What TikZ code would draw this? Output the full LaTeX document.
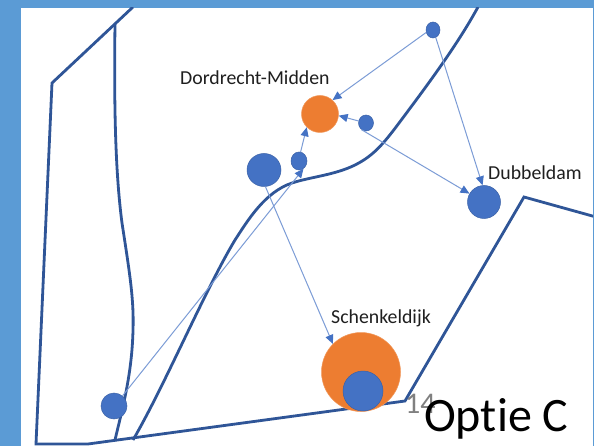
\documentclass[tikz,border=0pt]{standalone}
\usepackage{fontspec}
\setmainfont[RawFeature={-liga}]{Carlito}
\usetikzlibrary{arrows.meta,shapes.geometric}
\definecolor{frameblue}{HTML}{5B9BD5}
\definecolor{roadblue}{HTML}{2F5597}
\definecolor{dotblue}{HTML}{4472C4}
\definecolor{dotorange}{HTML}{ED7D31}
\definecolor{arrowblue}{HTML}{7C9CD6}
\tikzset{
  road/.style={draw=roadblue,line width=2.8pt,line join=miter},
  blue dot/.style={ellipse,inner sep=0pt,fill=dotblue,draw=dotblue!85!black,line width=0.5pt},
  orange dot/.style={circle,inner sep=0pt,fill=dotorange,draw=dotorange!80!white,line width=0.5pt},
  link/.style={draw=arrowblue,line width=1pt,-{Triangle[length=9pt,width=8pt,color=dotblue]}},
  label text/.style={inner sep=0pt,text=black!88,font=\fontsize{19.8}{22}\selectfont},
}
\begin{document}
\begin{tikzpicture}[x=1pt,y=-1pt]
\useasboundingbox (0,0) rectangle (594,446);
\fill[white] (0,0) rectangle (594,446);
% frame
\fill[frameblue] (0,0) rectangle (594,8);
\fill[frameblue] (0,0) rectangle (21,446);
\fill[frameblue] (593,0) rectangle (594,446);
% boundary
\begin{scope}
\clip (21,8) rectangle (593,446);
\draw[road] (133,7) -- (52,83) -- (36,444) -- (88,444) -- (405,401) -- (524,197) -- (596,217);
\draw[road] (115,24) .. controls (114,100) and (115,170) .. (122,223)
  .. controls (130,275) and (134,300) .. (133,330)
  .. controls (132,375) and (122,410) .. (115,440);
\draw[road] (478,7) .. controls (460,40) and (435,75) .. (405,115)
  .. controls (385,142) and (375,155) .. (355,165)
  .. controls (335,175) and (310,177) .. (292,183)
  .. controls (265,192) and (248,220) .. (235,240)
  .. controls (205,290) and (165,385) .. (133,440);
\end{scope}
% places
\node[orange dot,minimum width=37pt,minimum height=37pt] (midden) at (320,114) {};
\node[orange dot,minimum width=79pt,minimum height=79pt] (schenkel) at (361,372) {};
\node[blue dot,minimum width=14pt,minimum height=16pt] (top) at (433,30) {};
\node[blue dot,minimum width=15pt,minimum height=16pt] (east) at (366,123) {};
\node[blue dot,minimum width=16pt,minimum height=18pt] (small) at (299,161) {};
\node[blue dot,minimum width=34pt,minimum height=33pt] (big) at (264,170) {};
\node[blue dot,minimum width=33pt,minimum height=33pt] (dubbel) at (484,202) {};
\node[blue dot,minimum width=26pt,minimum height=26pt] (corner) at (114,406) {};
\node[blue dot,minimum width=40pt,minimum height=40pt] (inner) at (363,391) {};
% links
\draw[link] (top.200) -- (midden.48);
\draw[link] (top.-70) -- (dubbel.95);
\draw[link] (east.165) -- (midden.-5);
\draw[link] (east.-125) -- (dubbel.150);
\draw[link] (small.80) -- (midden.-135);
\draw[link] (big.-85) -- (schenkel.135);
\draw[link] (corner.50) -- (small.-60);
% labels
\node[label text,anchor=base west] (l1) at (180,85) {Dordrecht-Midden};
\node[label text,anchor=base west] (l2) at (488,180) {Dubbeldam};
\node[label text,anchor=base west] (l3) at (331,323) {Schenkeldijk};
\node[inner sep=0pt,anchor=base west,text=black!50,font=\fontsize{30}{32}\selectfont] (num) at (405,413) {14};
\node[inner sep=0pt,anchor=base west,text=black,font=\fontsize{48}{50}\selectfont] (title) at (424,431) {Optie C};
\end{tikzpicture}
\end{document}
